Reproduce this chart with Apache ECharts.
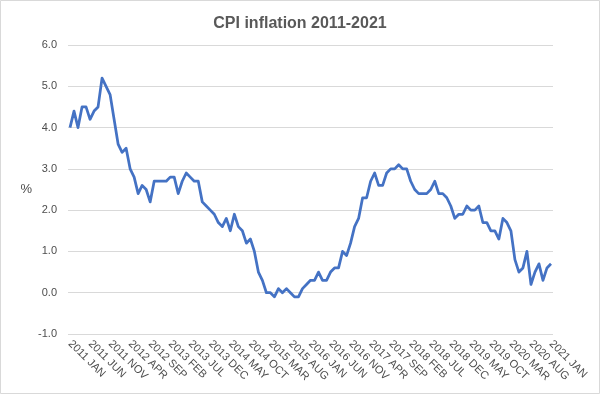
<!DOCTYPE html>
<html>
<head>
<meta charset="utf-8">
<script src="https://cdn.jsdelivr.net/npm/echarts@6/dist/echarts.min.js"></script>
<style>
html,body{margin:0;padding:0;background:#fff;}
#chart{width:600px;height:394px;}
</style>
</head>
<body>
<div id="chart"></div>
<script>
// Tick label parts
var years = [2011, 2012, 2013, 2014, 2015, 2016, 2017, 2018, 2019, 2020, 2021];
var months = ['JAN','FEB','MAR','APR','MAY','JUN','JUL','AUG','SEP','OCT','NOV','DEC'];

// CPI annual rate (%), Jan 2011 .. Jan 2021
var cpi2011 = [4.0, 4.4, 4.0, 4.5, 4.5, 4.2, 4.4, 4.5, 5.2, 5.0, 4.8, 4.2];
var cpi2012 = [3.6, 3.4, 3.5, 3.0, 2.8, 2.4, 2.6, 2.5, 2.2, 2.7, 2.7, 2.7];
var cpi2013 = [2.7, 2.8, 2.8, 2.4, 2.7, 2.9, 2.8, 2.7, 2.7, 2.2, 2.1, 2.0];
var cpi2014 = [1.9, 1.7, 1.6, 1.8, 1.5, 1.9, 1.6, 1.5, 1.2, 1.3, 1.0, 0.5];
var cpi2015 = [0.3, 0.0, 0.0, -0.1, 0.1, 0.0, 0.1, 0.0, -0.1, -0.1, 0.1, 0.2];
var cpi2016 = [0.3, 0.3, 0.5, 0.3, 0.3, 0.5, 0.6, 0.6, 1.0, 0.9, 1.2, 1.6];
var cpi2017 = [1.8, 2.3, 2.3, 2.7, 2.9, 2.6, 2.6, 2.9, 3.0, 3.0, 3.1, 3.0];
var cpi2018 = [3.0, 2.7, 2.5, 2.4, 2.4, 2.4, 2.5, 2.7, 2.4, 2.4, 2.3, 2.1];
var cpi2019 = [1.8, 1.9, 1.9, 2.1, 2.0, 2.0, 2.1, 1.7, 1.7, 1.5, 1.5, 1.3];
var cpi2020 = [1.8, 1.7, 1.5, 0.8, 0.5, 0.6, 1.0, 0.2, 0.5, 0.7, 0.3, 0.6];
var cpi2021 = [0.7];

var yTicks = [-1, 0, 1, 2, 3, 4, 5, 6];

var values = [].concat(cpi2011, cpi2012, cpi2013, cpi2014, cpi2015, cpi2016,
  cpi2017, cpi2018, cpi2019, cpi2020, cpi2021);
var categories = [];
for (var i = 0; i < values.length; i++) {
  categories.push(years[Math.floor(i / 12)] + ' ' + months[i % 12]);
}

var chart = echarts.init(document.getElementById('chart'));
chart.setOption({
  animation: false,
  backgroundColor: '#ffffff',
  title: {
    text: 'CPI inflation 2011-2021',
    left: 'center',
    top: 11,
    textStyle: { fontFamily: 'Liberation Sans, Arial, sans-serif', fontSize: 16, fontWeight: 'bold', color: '#595959' }
  },
  graphic: [{
    type: 'rect',
    shape: { x: 0.5, y: 0.5, width: 599, height: 393 },
    style: { fill: 'none', stroke: '#d9d9d9', lineWidth: 1 },
    silent: true
  }],
  grid: { left: 68, right: 47, top: 45, bottom: 60, containLabel: false },
  xAxis: {
    type: 'category',
    data: categories,
    boundaryGap: true,
    axisLine: { show: false },
    axisTick: { show: false },
    axisLabel: {
      interval: 4,
      rotate: -45,
      margin: 8,
      fontFamily: 'Liberation Sans, Arial, sans-serif',
      fontSize: 11,
      color: '#4d4d4d'
    },
    splitLine: { show: false }
  },
  yAxis: {
    type: 'value',
    min: yTicks[0],
    max: yTicks[yTicks.length - 1],
    interval: 1,
    name: '%',
    nameLocation: 'middle',
    nameGap: 34,
    nameRotate: 0,
    nameTextStyle: { fontFamily: 'Liberation Sans, Arial, sans-serif', fontSize: 13, color: '#4d4d4d' },
    axisLine: { show: false },
    axisTick: { show: false },
    axisLabel: {
      margin: 11,
      fontFamily: 'Liberation Sans, Arial, sans-serif',
      fontSize: 11,
      color: '#4d4d4d',
      formatter: function (v) { return v.toFixed(1); }
    },
    splitLine: { lineStyle: { color: '#d9d9d9', width: 1 } }
  },
  series: [{
    type: 'line',
    data: values,
    showSymbol: false,
    symbol: 'none',
    lineStyle: { color: '#4472C4', width: 2.75, join: 'round' },
    itemStyle: { color: '#4472C4' }
  }]
});
</script>
</body>
</html>
